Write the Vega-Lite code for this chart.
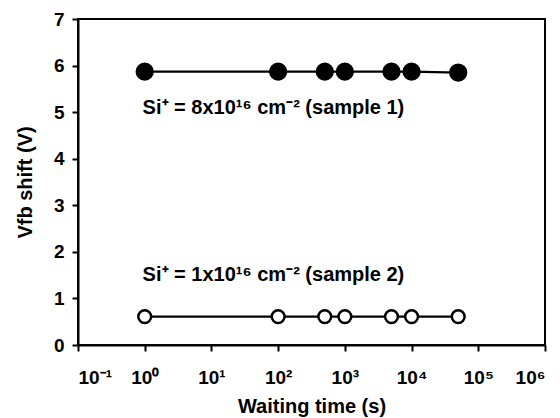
{
  "$schema": "https://vega.github.io/schema/vega-lite/v6.json",
  "width": 467,
  "height": 326,
  "autosize": "none",
  "padding": {"left": 78, "top": 19, "right": 15, "bottom": 73},
  "background": "white",
  "config": {
    "view": {"stroke": "black", "strokeWidth": 2},
    "font": "Liberation Sans",
    "axis": {
      "domainColor": "black", "domainWidth": 2,
      "tickColor": "black", "tickWidth": 2, "tickSize": 6,
      "labelFont": "Liberation Sans", "labelFontWeight": "bold", "labelFontSize": 19, "labelColor": "black",
      "titleFont": "Liberation Sans", "titleFontWeight": "bold", "titleFontSize": 20, "titleColor": "black",
      "grid": false
    }
  },
  "datasets": {
    "pts": [
      {"t": 1, "v": 5.87, "sample": "sample 1"},
      {"t": 100, "v": 5.87, "sample": "sample 1"},
      {"t": 500, "v": 5.87, "sample": "sample 1"},
      {"t": 1000, "v": 5.87, "sample": "sample 1"},
      {"t": 5000, "v": 5.87, "sample": "sample 1"},
      {"t": 10000, "v": 5.87, "sample": "sample 1"},
      {"t": 50000, "v": 5.85, "sample": "sample 1"},
      {"t": 1, "v": 0.61, "sample": "sample 2"},
      {"t": 100, "v": 0.61, "sample": "sample 2"},
      {"t": 500, "v": 0.61, "sample": "sample 2"},
      {"t": 1000, "v": 0.61, "sample": "sample 2"},
      {"t": 5000, "v": 0.61, "sample": "sample 2"},
      {"t": 10000, "v": 0.61, "sample": "sample 2"},
      {"t": 50000, "v": 0.61, "sample": "sample 2"}
    ],
    "labels": [
      {"t": 0.93, "v": 5.08, "label": "Si⁺ = 8x10¹⁶ cm⁻² (sample 1)"},
      {"t": 0.93, "v": 1.5, "label": "Si⁺ = 1x10¹⁶ cm⁻² (sample 2)"}
    ]
  },
  "layer": [
    {
      "data": {"name": "pts"},
      "mark": {"type": "line", "color": "black", "strokeWidth": 2.2},
      "encoding": {
        "x": {"field": "t", "type": "quantitative",
          "scale": {"type": "log", "domain": [0.1, 1000000], "nice": false},
          "axis": {"title": "Waiting time (s)", "values": [0.1, 1, 10, 100, 1000, 10000, 100000, 1000000],
            "labelPadding": 17, "titlePadding": 9,
            "labelExpr": "datum.value < 0.5 ? '10⁻¹' : datum.value < 5 ? '10⁰' : datum.value < 50 ? '10¹' : datum.value < 500 ? '10²' : datum.value < 5000 ? '10³' : datum.value < 50000 ? '10⁴' : datum.value < 500000 ? '10⁵' : '10⁶'"}},
        "y": {"field": "v", "type": "quantitative",
          "scale": {"domain": [0, 7], "nice": false},
          "axis": {"title": "Vfb shift (V)", "values": [0, 1, 2, 3, 4, 5, 6, 7], "labelPadding": 8, "titlePadding": 18}},
        "detail": {"field": "sample"}
      }
    },
    {
      "data": {"name": "pts"},
      "mark": {"type": "point", "shape": "circle", "stroke": "black", "strokeWidth": 2.5, "opacity": 1, "filled": false},
      "encoding": {
        "x": {"field": "t", "type": "quantitative"},
        "y": {"field": "v", "type": "quantitative"},
        "fill": {"field": "sample", "type": "nominal", "scale": {"domain": ["sample 1", "sample 2"], "range": ["black", "white"]}, "legend": null},
        "size": {"field": "sample", "type": "nominal", "scale": {"domain": ["sample 1", "sample 2"], "range": [250, 165]}, "legend": null}
      }
    },
    {
      "data": {"name": "labels"},
      "mark": {"type": "text", "align": "left", "baseline": "middle", "font": "Liberation Sans", "fontWeight": "bold", "fontSize": 20, "color": "black"},
      "encoding": {
        "x": {"field": "t", "type": "quantitative"},
        "y": {"field": "v", "type": "quantitative"},
        "text": {"field": "label"}
      }
    }
  ]
}
